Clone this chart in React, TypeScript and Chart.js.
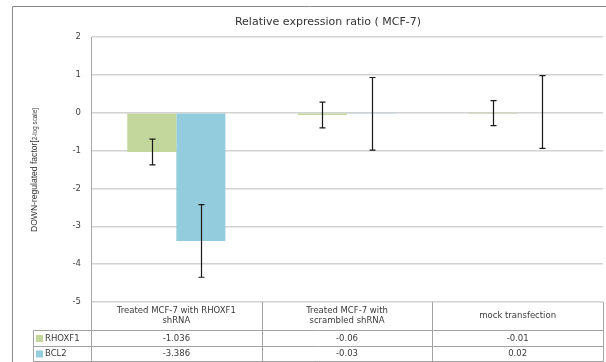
import React, { useEffect, useRef } from "react";
import { Chart, registerables } from "chart.js";

Chart.register(...registerables);

const categoryLines: string[][] = [
  ["Treated MCF-7 with RHOXF1", "shRNA"],
  ["Treated MCF-7 with", "scrambled shRNA"],
  ["mock transfection"],
];
const seriesNames = ["RHOXF1", "BCL2"];
const rhoxf1Values = [-1.036, -0.06, -0.01];
const bcl2Values = [-3.386, -0.03, 0.02];
const rhoxf1Errors = [0.34, 0.34, 0.33];
const bcl2Errors = [0.96, 0.96, 0.96];
const seriesColors = ["#c3d69b", "#93cddd"];
const chartTitle = "Relative expression ratio ( MCF-7)";
const yTitleMain = "DOWN-regulated factor[";
const yTitleSmall = "2-log scale]";
const yMin = -5;
const yMax = 2;

const overlay = {
  id: "overlay",
  afterDatasetsDraw(chart: any) {
    const ctx = chart.ctx as CanvasRenderingContext2D;
    const area = chart.chartArea;
    const ys = chart.scales.y;
    const errs = [rhoxf1Errors, bcl2Errors];
    const vals = [rhoxf1Values, bcl2Values];
    ctx.save();
    // error bars
    ctx.strokeStyle = "#1a1a1a";
    ctx.lineWidth = 1.2;
    for (let d = 0; d < 2; d++) {
      const meta = chart.getDatasetMeta(d);
      meta.data.forEach((bar: any, i: number) => {
        const x = Math.round(bar.x) + 0.5;
        const top = ys.getPixelForValue(vals[d][i] + errs[d][i]);
        const bot = ys.getPixelForValue(vals[d][i] - errs[d][i]);
        ctx.beginPath();
        ctx.moveTo(x, top);
        ctx.lineTo(x, bot);
        ctx.moveTo(x - 3, top);
        ctx.lineTo(x + 3, top);
        ctx.moveTo(x - 3, bot);
        ctx.lineTo(x + 3, bot);
        ctx.stroke();
      });
    }
    ctx.restore();
  },
  afterDraw(chart: any) {
    const ctx = chart.ctx as CanvasRenderingContext2D;
    const area = chart.chartArea;
    const xs = chart.scales.x;
    ctx.save();
    // outer frame
    ctx.strokeStyle = "#8a8a8a";
    ctx.lineWidth = 1;
    ctx.beginPath();
    ctx.moveTo(12.5, 362);
    ctx.lineTo(12.5, 6.5);
    ctx.lineTo(606, 6.5);
    ctx.stroke();

    // title
    ctx.fillStyle = "#333333";
    ctx.font = '11px "DejaVu Sans"';
    ctx.textAlign = "center";
    ctx.textBaseline = "alphabetic";
    ctx.fillText(chartTitle, 328, 25);

    // y title
    ctx.save();
    ctx.translate(37, 170);
    ctx.rotate(-Math.PI / 2);
    ctx.font = '9.5px "Liberation Sans"';
    const w1 = ctx.measureText(yTitleMain).width;
    ctx.font = '7px "Liberation Sans"';
    const w2 = ctx.measureText(yTitleSmall).width;
    const total = w1 + w2;
    const sx = 124 / total;
    ctx.scale(sx, 1);
    ctx.textAlign = "left";
    ctx.fillStyle = "#333333";
    ctx.font = '9.5px "Liberation Sans"';
    ctx.fillText(yTitleMain, -total / 2, 0);
    ctx.font = '7px "Liberation Sans"';
    ctx.fillText(yTitleSmall, -total / 2 + w1, 0);
    ctx.restore();

    // data table
    const n = categoryLines.length;
    const colW = (area.right - area.left) / n;
    const bounds: number[] = [];
    for (let i = 0; i <= n; i++) {
      if (i < n) bounds.push(xs.getPixelForValue(i) - colW / 2);
      else bounds.push(xs.getPixelForValue(n - 1) + colW / 2);
    }
    const tTop = area.bottom;
    const r1 = 330;
    const r2 = 346;
    const r3 = 361;
    const legLeft = 33;
    ctx.strokeStyle = "#a3a3a3";
    ctx.lineWidth = 1;
    ctx.beginPath();
    bounds.forEach((bx) => {
      const x = Math.round(bx) + 0.5;
      ctx.moveTo(x, tTop);
      ctx.lineTo(x, r3 + 0.5);
    });
    [r1, r2, r3].forEach((y) => {
      ctx.moveTo(legLeft + 0.5, y + 0.5);
      ctx.lineTo(Math.round(bounds[n]) + 0.5, y + 0.5);
    });
    ctx.moveTo(legLeft + 0.5, r1 + 0.5);
    ctx.lineTo(legLeft + 0.5, r3 + 0.5);
    ctx.stroke();

    ctx.fillStyle = "#3a3a3a";
    ctx.font = '8.5px "DejaVu Sans"';
    ctx.textAlign = "center";
    ctx.textBaseline = "middle";
    categoryLines.forEach((lines, i) => {
      const cx = xs.getPixelForValue(i);
      const cy = (tTop + r1) / 2;
      const lh = 10.5;
      lines.forEach((ln, j) => {
        ctx.fillText(ln, cx, cy + (j - (lines.length - 1) / 2) * lh);
      });
    });
    const rows = [rhoxf1Values, bcl2Values];
    const rowMid = [(r1 + r2) / 2 + 0.5, (r2 + r3) / 2 + 0.5];
    rows.forEach((vals, r) => {
      vals.forEach((v, i) => {
        ctx.fillText(String(v), xs.getPixelForValue(i), rowMid[r]);
      });
      ctx.fillStyle = seriesColors[r];
      ctx.fillRect(36, rowMid[r] - 3.5, 7, 7);
      ctx.fillStyle = "#3a3a3a";
      ctx.textAlign = "left";
      ctx.fillText(seriesNames[r], 45, rowMid[r]);
      ctx.textAlign = "center";
    });
    ctx.restore();
  },
};

export default function App() {
  const ref = useRef<HTMLCanvasElement | null>(null);
  useEffect(() => {
    if (!ref.current) return;
    const chart = new Chart(ref.current, {
      type: "bar",
      data: {
        labels: categoryLines.map((l) => l.join(" ")),
        datasets: [
          {
            label: seriesNames[0],
            data: rhoxf1Values,
            backgroundColor: seriesColors[0],
            categoryPercentage: 0.575,
            barPercentage: 1,
          },
          {
            label: seriesNames[1],
            data: bcl2Values,
            backgroundColor: seriesColors[1],
            categoryPercentage: 0.575,
            barPercentage: 1,
          },
        ],
      },
      options: {
        responsive: false,
        animation: false,
        devicePixelRatio: 1,
        layout: { padding: { left: 0, right: 3, top: 37, bottom: 60 } },
        plugins: {
          legend: { display: false },
          title: { display: false },
          tooltip: { enabled: false },
        },
        scales: {
          x: {
            ticks: { display: false },
            grid: { display: false, drawTicks: false },
            border: { display: false },
            afterFit: (s: any) => {
              s.height = 0;
            },
          },
          y: {
            min: yMin,
            max: yMax,
            ticks: {
              stepSize: 1,
              padding: 10,
              color: "#404040",
              font: { family: "DejaVu Sans", size: 8.5 },
            },
            grid: { color: "#d2d2d2", lineWidth: 1.5, drawTicks: false },
            border: { display: true, color: "#a6a6a6", width: 1 },
            afterFit: (s: any) => {
              s.width = 91;
            },
          },
        },
      },
      plugins: [overlay],
    });
    return () => chart.destroy();
  }, []);
  return (
    <div style={{ position: "fixed", left: 0, top: 0, width: 606, height: 362, background: "#fff" }}>
      <canvas ref={ref} width={606} height={362} style={{ display: "block" }} />
    </div>
  );
}
